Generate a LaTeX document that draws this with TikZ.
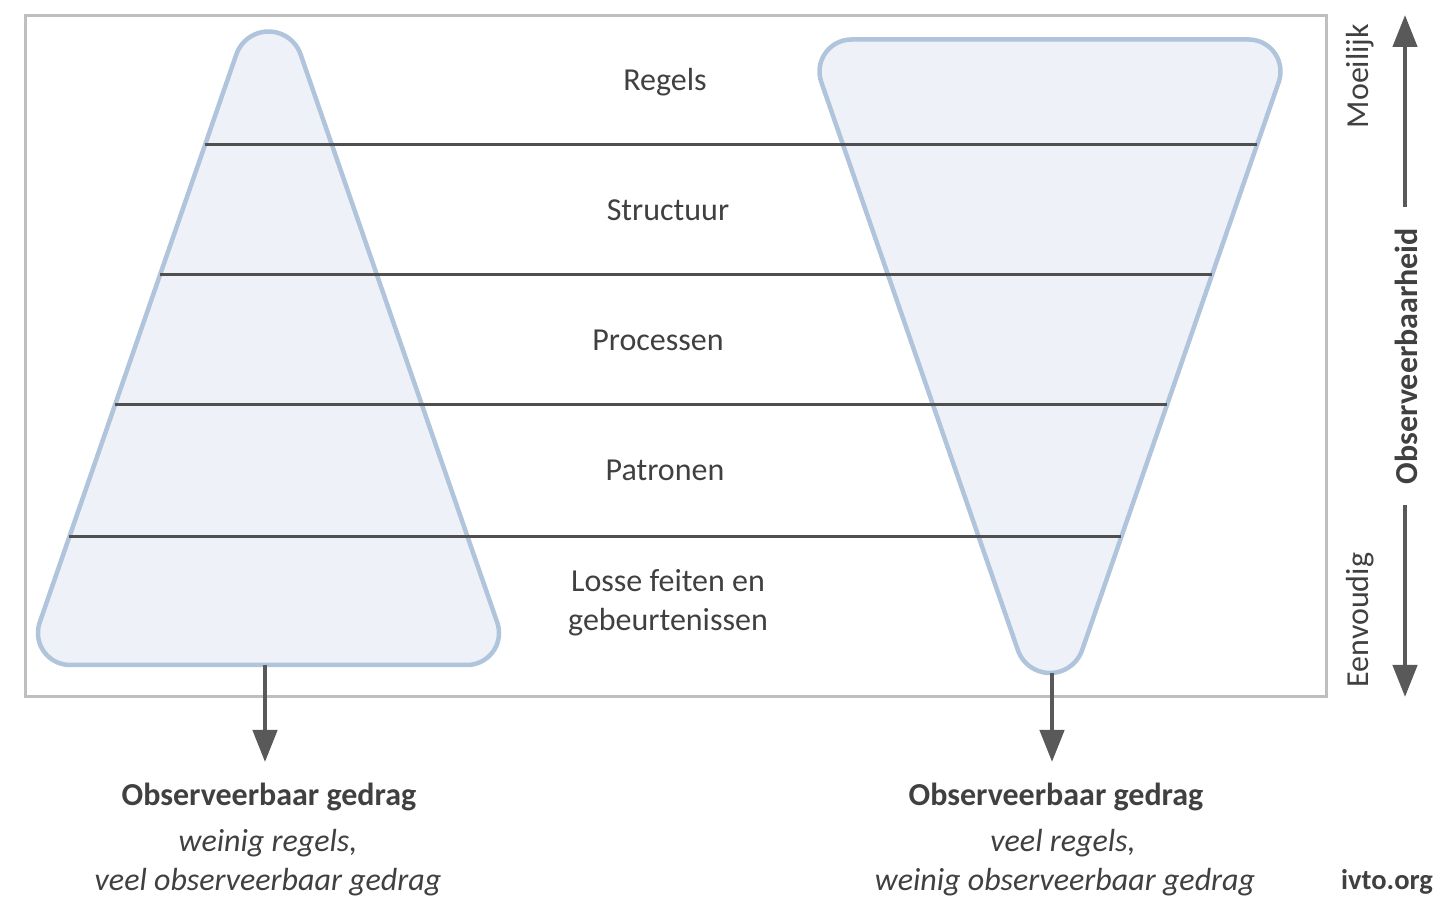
\documentclass[tikz,border=0pt]{standalone}
\usepackage{fontspec}
\setmainfont{Carlito}
\usetikzlibrary{arrows.meta}
\definecolor{shapefill}{HTML}{EEF2F8}
\definecolor{shapeline}{HTML}{B0C4DC}
\definecolor{framec}{HTML}{BFBFBF}
\definecolor{txtc}{HTML}{404040}
\definecolor{darkc}{HTML}{595959}
\definecolor{levelc}{HTML}{4F4F4F}
\tikzset{
  shapestyle/.style={fill=shapefill, draw=shapeline, line width=4.5pt, line join=round},
  levelline/.style={draw=levelc, line width=3pt},
  lbl/.style={text=txtc, font=\fontsize{32}{39}\selectfont, inner sep=0pt, anchor=base},
  blbl/.style={lbl, font=\fontsize{32}{39}\selectfont\bfseries},
  ilbl/.style={lbl, font=\fontsize{32}{39}\selectfont\itshape},
  bigarrow/.style={draw=darkc, line width=4.5pt, -{Triangle[length=32pt,width=24pt]}, fill=darkc},
}
\begin{document}
\begin{tikzpicture}[x=1pt,y=1pt]
\useasboundingbox (0,0) rectangle (1445,904);
% frame
\draw[framec, line width=3pt] (25,888) rectangle (1326,207);
% left pyramid
\path[shapestyle] (70,239) -- (467,239) arc[start angle=270, end angle=379.1, radius=32]
  -- (300.6,849.6) arc[start angle=19.1, end angle=160.9, radius=34]
  -- (39.7,281.5) arc[start angle=160.9, end angle=270, radius=32] -- cycle;
% right inverted pyramid
\path[shapestyle] (851.5,864.5) arc[start angle=90, end angle=199.1, radius=32]
  -- (1017.87,253.88) arc[start angle=199.1, end angle=340.9, radius=34]
  -- (1278.76,822.03) arc[start angle=-19.1, end angle=90, radius=32] -- cycle;
% level lines
\draw[levelline] (205,759) -- (1257,759);
\draw[levelline] (160,629) -- (1212,629);
\draw[levelline] (115,499) -- (1167,499);
\draw[levelline] (69.3,367) -- (1121.3,367);
% level labels
\node[lbl] (regels) at (665,813) {Regels};
\node[lbl] (structuur) at (668,683) {Structuur};
\node[lbl] (processen) at (658,553) {Processen};
\node[lbl] (patronen) at (665,423) {Patronen};
\node[lbl] (losse1) at (668,312) {Losse feiten en};
\node[lbl] (losse2) at (668,273) {gebeurtenissen};
% bottom texts
\node[blbl] (lobs) at (269,98) {Observeerbaar gedrag};
\node[ilbl] (lw1) at (268,52) {weinig regels,};
\node[ilbl] (lw2) at (268,13) {veel observeerbaar gedrag};
\node[blbl] (robs) at (1056,98) {Observeerbaar gedrag};
\node[ilbl] (rw1) at (1063,52) {veel regels,};
\node[ilbl] (rw2) at (1065,13) {weinig observeerbaar gedrag};
\node[lbl, font=\fontsize{28.5}{34}\selectfont\bfseries] (ivto) at (1387,14) {ivto.org};
% arrows down from shapes
\coordinate (lbot) at (265,239);
\coordinate (ltip) at (265,142);
\coordinate (rbot) at (1052,231);
\coordinate (rtip) at (1052,142);
\draw[bigarrow] (lbot) -- (ltip);
\draw[bigarrow] (rbot) -- (rtip);
% right scale
\node[lbl, rotate=90] (moei) at (1368,828) {Moeilijk};
\node[lbl, rotate=90] (eenv) at (1368,284) {Eenvoudig};
\node[blbl, rotate=90] (obsh) at (1417,548) {Observeerbaarheid};
\coordinate (upstart) at (1405,697);
\coordinate (uptip) at (1405,889);
\coordinate (dnstart) at (1405,399);
\coordinate (dntip) at (1405,207);
\draw[bigarrow] (upstart) -- (uptip);
\draw[bigarrow] (dnstart) -- (dntip);
\end{tikzpicture}
\end{document}
